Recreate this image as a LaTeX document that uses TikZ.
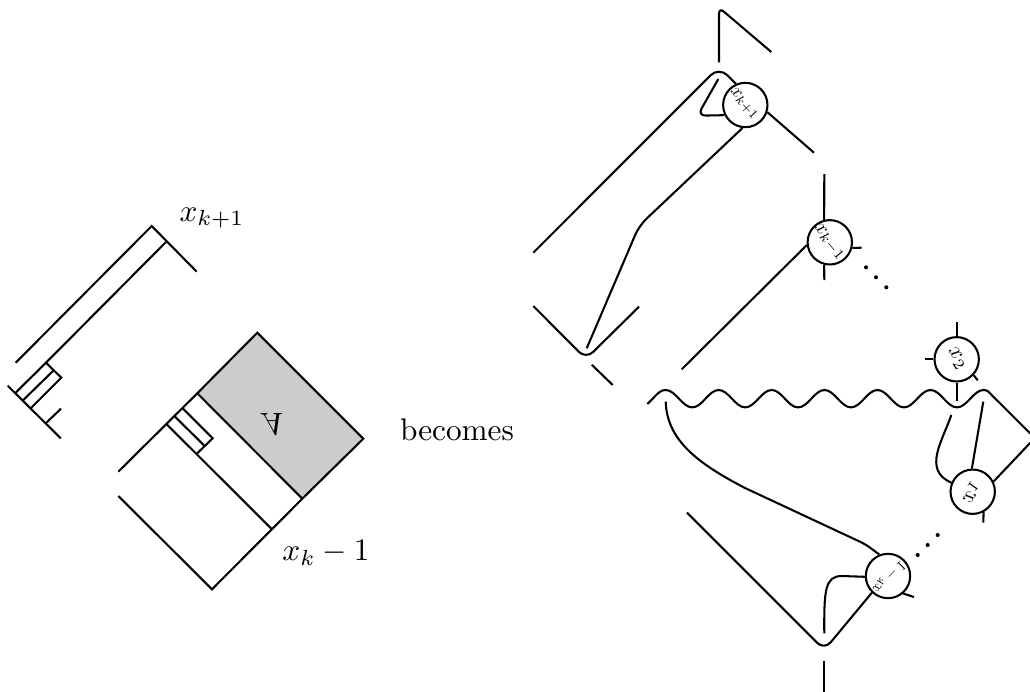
\documentclass[tikz,border=0pt]{standalone}
\begin{document}
\begin{tikzpicture}[x=0.32pt,y=-0.32pt,line join=miter,
  lnk/.style={draw=black,line width=0.66pt},
  bead/.style={circle,draw=black,line width=0.66pt,inner sep=0pt,minimum size=14.2pt},
  dotn/.style={circle,fill=black,inner sep=0pt,minimum size=1.3pt},
  inlab/.style={inner sep=0pt,transform shape}]
\useasboundingbox (0,0) rectangle (1030,692);
% left part
\coordinate (a1) at (15.7,362.7);
\coordinate (a2) at (151.7,226);
\coordinate (a3) at (196.7,271.7);
\coordinate (a4) at (166,242);
\coordinate (a5) at (46,362.7);
\coordinate (a6) at (16,392.3);
\coordinate (a7) at (61.3,377.7);
\coordinate (a8) at (30.7,408.3);
\coordinate (a9) at (53.3,370.7);
\coordinate (a10) at (23.3,400);
\coordinate (a11) at (7.7,385.7);
\coordinate (a12) at (60.7,438.3);
\coordinate (a13) at (46,423);
\coordinate (a14) at (61,408.7);
\draw[lnk] (a1) -- (a2) -- (a3);
\draw[lnk] (a4) -- (a5) -- (a6);
\draw[lnk] (a5) -- (a7) -- (a8);
\draw[lnk] (a9) -- (a10);
\draw[lnk] (a11) -- (a12);
\draw[lnk] (a13) -- (a14);
\coordinate (g1) at (257.3,332.7);
\coordinate (g2) at (363.3,438.7);
\coordinate (g3) at (302.3,498.7);
\coordinate (g4) at (197.3,393.3);
\filldraw[lnk,fill=black!20] (g1) -- (g2) -- (g3) -- (g4) -- cycle;
\coordinate (b1) at (118.3,471.7);
\coordinate (b2) at (212,589.3);
\coordinate (b3) at (118.3,496);
\coordinate (b4) at (182.7,408.3);
\coordinate (b5) at (212.7,438.3);
\coordinate (b6) at (197.3,453.3);
\coordinate (b7) at (175,416.7);
\coordinate (b8) at (204.7,446);
\coordinate (b9) at (166.7,424.3);
\coordinate (b10) at (272,529.3);
\draw[lnk] (g4) -- (b1);
\draw[lnk] (g3) -- (b2) -- (b3);
\draw[lnk] (b4) -- (b5) -- (b6);
\draw[lnk] (b7) -- (b8);
\draw[lnk] (b9) -- (b10);
\node[inlab,cm={1,0,0.2,-1,(273.5,424.5)}] (lA) {A};
\node (l1) at (212,218) {$x_{k+1}$};
\node (l2) at (326,553) {$x_k-1$};
\node (l3) at (457,430) {becomes};
% beads
\node[bead] (ca) at (745.3,105) {};
\node[bead] (cb) at (829.8,242.3) {};
\node[bead] (cc) at (956.7,359.3) {};
\node[bead] (cd) at (972.7,491.7) {};
\node[bead] (ce) at (888,576) {};
\node[inlab,rotate=-48,scale=0.58] (ta) at (744,104) {$x_{k+1}$};
\node[inlab,rotate=-50,scale=0.65] (tb) at (829,242) {$x_{k-1}$};
\node[inlab,rotate=-58,scale=0.72] (tc) at (957,359) {$x_2$};
\node[inlab,cm={0.4,0.58,0.58,-0.4,(971,492)}] (td) {$x_1$};
\node[inlab,cm={0.33,0.33,0.33,-0.33,(889,577)}] (te) {$x_k-1$};
% top strands
\coordinate (t1) at (719,62.3);
\coordinate (t2) at (719,7.5);
\coordinate (t3) at (771.3,52);
\draw[lnk,rounded corners=2pt] (t1) -- (t2) -- (t3);
\coordinate (s1) at (533.3,252.7);
\coordinate (s2) at (719,66.8);
\draw[lnk,rounded corners=3.8pt] (s1) -- (s2) -- (ca.114);
\coordinate (i1) at (718.3,79);
\coordinate (i2) at (697.5,115.7);
\draw[lnk,rounded corners=2.6pt] (i1) -- (i2) -- (ca.206);
\coordinate (r1) at (814,152.7);
\draw[lnk] (ca.342) -- (r1);
\coordinate (k1) at (639.2,225.6);
\coordinate (k2) at (586.7,348.3);
\draw[lnk,rounded corners=3.2pt] (ca.263) -- (k1) -- (k2);
\coordinate (v1) at (533.3,306);
\coordinate (v2) at (586,359);
\coordinate (v3) at (639,306.7);
\draw[lnk,rounded corners=3.2pt] (v1) -- (v2) -- (v3);
\coordinate (u1) at (591.7,364.7);
\coordinate (u2) at (612.7,385);
\draw[lnk] (u1) -- (u2);
% bead b
\coordinate (m1) at (824.3,174);
\coordinate (m2) at (824.3,280);
\coordinate (m3) at (861.7,247.7);
\coordinate (m4) at (681.7,369.3);
\draw[lnk] (m1) -- (cb.104);
\draw[lnk] (cb.256) -- (m2);
\draw[lnk] (cb.346) -- (m3);
\draw[lnk] (cb.187) -- (m4);
\node[dotn] (d1) at (866,267.3) {};
\node[dotn] (d2) at (876,277.3) {};
\node[dotn] (d3) at (886.3,287.3) {};
% bead c
\coordinate (n1) at (956.7,322.3);
\coordinate (n2) at (925.3,359.3);
\coordinate (n3) at (977.7,380.3);
\coordinate (n4) at (956.7,400.7);
\draw[lnk] (n1) -- (cc.90);
\draw[lnk] (n2) -- (cc.180);
\draw[lnk] (cc.317) -- (n3);
\draw[lnk] (cc.270) -- (n4);
% wave
\coordinate (w0) at (647.3,404);
\coordinate (wp) at (665.7,390);
\coordinate (we) at (991.7,395);
\coordinate (wr) at (1034.8,438);
\draw[lnk] (w0) -- (654,397.3) .. controls (658,393) and (661,390) .. (wp)
  .. controls +(10,0) and +(-10,0) .. ++(26.6,17.4)
  .. controls +(10,0) and +(-10,0) .. ++(26.4,-17.4)
  .. controls +(10,0) and +(-10,0) .. ++(26.5,17.4)
  .. controls +(10,0) and +(-10,0) .. ++(26.5,-17.4)
  .. controls +(10,0) and +(-10,0) .. ++(26.4,17.4)
  .. controls +(10,0) and +(-10,0) .. ++(26.4,-17.4)
  .. controls +(10,0) and +(-10,0) .. ++(26.5,17.4)
  .. controls +(10,0) and +(-10,0) .. ++(26.5,-17.4)
  .. controls +(10,0) and +(-10,0) .. ++(26.5,17.4)
  .. controls +(10,0) and +(-10,0) .. ++(26.5,-17.4)
  .. controls +(10,0) and +(-10,0) .. ++(26.5,17.4)
  .. controls +(10,0) and +(-10,0) .. ++(26.5,-17.4)
  .. controls +(4,0) and +(-3,-3) .. (we) -- (wr) -- (cd.26);
% bead d
\coordinate (o1) at (983.3,401.7);
\coordinate (o2) at (951.3,415);
\coordinate (o3) at (983.3,522.7);
\draw[lnk] (o1) -- (cd.92);
\draw[lnk] (o2) .. controls (943,440) and (922,470) .. (cd.157);
\draw[lnk] (cd.298) -- (o3);
% bead e
\node[dotn] (d4) at (917.7,555) {};
\node[dotn] (d5) at (927.7,545) {};
\node[dotn] (d6) at (937.7,535) {};
\coordinate (p1) at (665.7,401.7);
\coordinate (p2) at (745,488);
\coordinate (p3) at (860,541.7);
\draw[lnk] (p1) .. controls (667,440) and (697,463) .. (p2) -- (p3) .. controls (868,545.5) and (873,550) .. (ce.112.5);
\coordinate (q1) at (687,512.7);
\coordinate (q2) at (824.3,650);
\draw[lnk,rounded corners=3.2pt] (q1) -- (q2) -- (ce.226);
\coordinate (q3) at (824.3,633.3);
\coordinate (q4) at (842,576);
\draw[lnk] (q3) .. controls (824,590) and (825,576) .. (q4) -- (ce.182);
\coordinate (q5) at (914,597);
\draw[lnk] (ce.311.5) -- (q5);
\coordinate (q6) at (824.3,661);
\coordinate (q7) at (824.3,692);
\draw[lnk] (q6) -- (q7);
\end{tikzpicture}
\end{document}
